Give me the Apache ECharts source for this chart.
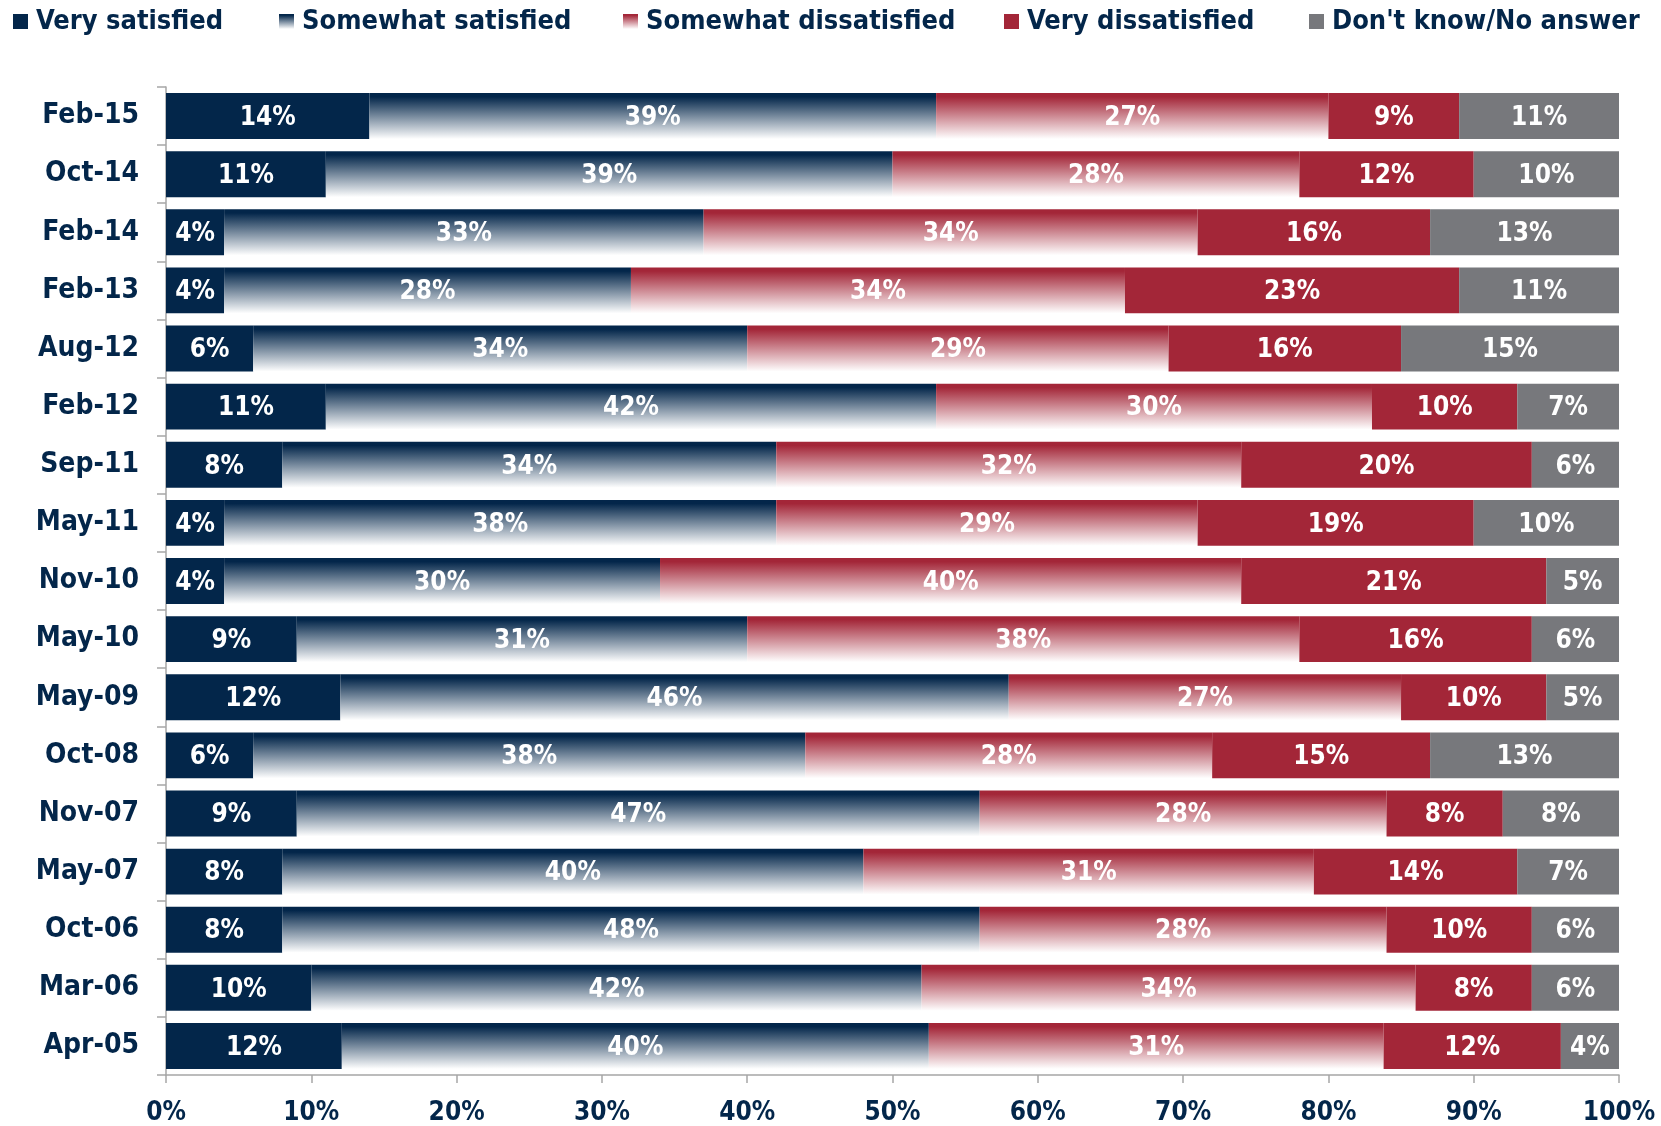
<!DOCTYPE html>
<html>
<head>
<meta charset="utf-8">
<script src="https://cdn.jsdelivr.net/npm/echarts@6/dist/echarts.min.js"></script>
<style>
html,body{margin:0;padding:0;background:#fff;}
#chart{width:1661px;height:1126px;}
</style>
</head>
<body>
<div id="chart"></div>
<script>
const categories = ['Feb-15','Oct-14','Feb-14','Feb-13','Aug-12','Feb-12','Sep-11','May-11','Nov-10','May-10','May-09','Oct-08','Nov-07','May-07','Oct-06','Mar-06','Apr-05'];
const verySatisfied      = [14,11,4,4,6,11,8,4,4,9,12,6,9,8,8,10,12.1];
const somewhatSatisfied  = [39,39,33,28,34,42,34,38,30,31,46,38,47,40,48,42,40.4];
const somewhatDissat     = [27,28,34,34,29,30,32,29,40,38,27,28,28,31,28,34,31.3];
const veryDissat         = [9,12,16,23,16,10,20,19,21,16,10,15,8,14,10,8,12.2];
const dontKnow           = [11,10,13,11,15,7,6,10,5,6,5,13,8,7,6,6,4];
const xTicks = [0,10,20,30,40,50,60,70,80,90,100];
const seriesNames = ['Very satisfied','Somewhat satisfied','Somewhat dissatisfied','Very dissatisfied',"Don't know/No answer"];

const NAVY = '#03264a', RED = '#a32638', GREY = '#77787c';
const FONT = '"DejaVu Sans Condensed", "DejaVu Sans", sans-serif';
const grad = (c) => ({type:'linear',x:0,y:0,x2:0,y2:1,colorStops:[{offset:0,color:c},{offset:0.08,color:c},{offset:1,color:'#ffffff'}]});
const colors = [NAVY, grad(NAVY), grad(RED), RED, GREY];
const values = [verySatisfied, somewhatSatisfied, somewhatDissat, veryDissat, dontKnow];

const legendLefts = [13, 279, 623, 1004, 1309];
const chart = echarts.init(document.getElementById('chart'), null, {renderer:'canvas'});
chart.setOption({
  animation:false,
  color: colors,
  legend: seriesNames.map((n,i)=>({
    data:[n], left: legendLefts[i], top: 8, padding:0,
    icon:'rect', itemWidth:15, itemHeight:15, itemGap:0,
    textStyle:{fontFamily:FONT, fontWeight:'bold', fontSize:27, color:NAVY, padding:[0,0,0,3]}
  })),
  grid:{left:166, right:42, top:87, bottom:48, containLabel:false},
  xAxis:{
    type:'value', min:0, max:100, interval:10,
    axisLine:{show:true, lineStyle:{color:'#a6a6a6', width:1.5}},
    axisTick:{show:true, length:8, lineStyle:{color:'#a6a6a6', width:1.5}},
    splitLine:{show:false},
    axisLabel:{margin:25, fontFamily:FONT, fontWeight:'bold', fontSize:26, color:NAVY, formatter:(v)=> xTicks.includes(v)? v+'%' : ''}
  },
  yAxis:{
    type:'category', data:categories, inverse:true,
    axisLine:{show:true, lineStyle:{color:'#a6a6a6', width:1.5}},
    axisTick:{show:true, length:9, lineStyle:{color:'#a6a6a6', width:1.5}},
    axisLabel:{margin:27, padding:[4,0,0,0], fontFamily:FONT, fontWeight:'bold', fontSize:28, color:NAVY}
  },
  series: seriesNames.map((n,i)=>({
    name:n, type:'bar', stack:'total', barWidth:'79%',
    data: values[i],
    itemStyle:{color: colors[i]},
    label:{show:true, position:'inside', offset:[0,2], fontFamily:FONT, fontWeight:'bold', fontSize:26, color:'#ffffff',
      formatter:(p)=> Math.round(p.value)+'%'}
  }))
});
</script>
</body>
</html>
